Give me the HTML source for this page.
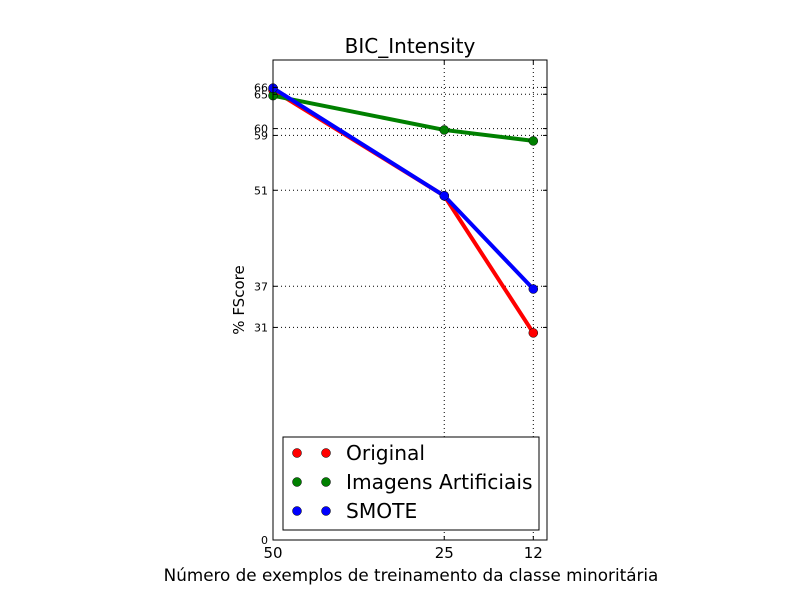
<!DOCTYPE html>
<html><head><meta charset="utf-8"><style>
body{margin:0;background:#fff;}
svg text{font-family:"DejaVu Sans","Liberation Sans",sans-serif;}
</style></head><body>
<svg id="chart" width="800" height="600" xmlns="http://www.w3.org/2000/svg">
<rect width="800" height="600" fill="#fff"/>
<text x="410" y="53" font-size="20" text-anchor="middle">BIC_Intensity</text>
<g id="grid"></g>
<g id="series"></g>
<rect x="273" y="60" width="274" height="480" fill="none" stroke="#000" stroke-width="1"/>
<g id="axes"></g>
<text x="244" y="300" font-size="15" text-anchor="middle" transform="rotate(-90 244 300)">% FScore</text>
<text x="411" y="581" font-size="16.8" text-anchor="middle">Número de exemplos de treinamento da classe minoritária</text>
<g>
<rect x="283" y="437" width="256" height="93" fill="#fff" stroke="#000" stroke-width="1"/>
<g><circle cx="297" cy="453" r="4.5" fill="red" stroke="#000" stroke-width="0.5"/><circle cx="326" cy="453" r="4.5" fill="red" stroke="#000" stroke-width="0.5"/><text x="346" y="460" font-size="20.2">Original</text></g>
<g><circle cx="297" cy="482" r="4.5" fill="green" stroke="#000" stroke-width="0.5"/><circle cx="326" cy="482" r="4.5" fill="green" stroke="#000" stroke-width="0.5"/><text x="346" y="489" font-size="20.2">Imagens Artificiais</text></g>
<g><circle cx="297" cy="511" r="4.5" fill="blue" stroke="#000" stroke-width="0.5"/><circle cx="326" cy="511" r="4.5" fill="blue" stroke="#000" stroke-width="0.5"/><text x="346" y="518" font-size="20.2">SMOTE</text></g>
</g>
</svg>
<script>
const categories=[50,25,12];
const original=[65.6,50.2,30.2];
const artificiais=[64.8,59.8,58.2];
const smote=[65.9,50.2,36.6];
const yTicks=[0,31,37,51,59,60,65,66];
const xTicks=[50,25,12];
const NS="http://www.w3.org/2000/svg";
const L=273,R=547,T=60,B=540;
function xs(v){return L+(50-v)/(50-10)*(R-L);}
function ys(v){return B-v/70*(B-T);}
function mk(tag,attrs,parent){const e=document.createElementNS(NS,tag);for(const k in attrs)e.setAttribute(k,attrs[k]);parent.appendChild(e);return e;}
const grid=document.getElementById('grid'),axes=document.getElementById('axes'),ser=document.getElementById('series');
yTicks.forEach(v=>{const y=ys(v);
 const g=mk('line',{x1:L,x2:R,y1:y,y2:y,stroke:'#000','stroke-dasharray':'1,3','stroke-width':1},grid);
 
 
 mk('line',{x1:L,x2:L+4,y1:y,y2:y,stroke:'#000'},axes);
 mk('line',{x1:R-4,x2:R,y1:y,y2:y,stroke:'#000'},axes);
 const t=mk('text',{x:L-5,y:y+4,'font-size':11,'text-anchor':'end'},axes);t.textContent=v;
 
 
});
xTicks.forEach(v=>{const x=xs(v);
 const g=mk('line',{x1:x,x2:x,y1:T,y2:B,stroke:'#000','stroke-dasharray':'1,3','stroke-width':1},grid);
 
 
 mk('line',{x1:x,x2:x,y1:B,y2:B-4,stroke:'#000'},axes);
 mk('line',{x1:x,x2:x,y1:T,y2:T+4,stroke:'#000'},axes);
 const t=mk('text',{x:x,y:B+18,'font-size':15,'text-anchor':'middle'},axes);t.textContent=v;
 
 
});
[[original,'red','original'],[artificiais,'green','imagens-artificiais'],[smote,'blue','smote']].forEach(([d,c,n])=>{
 const pts=d.map((v,i)=>xs(categories[i])+','+ys(v)).join(' ');
 const p=mk('polyline',{points:pts,fill:'none',stroke:c,'stroke-width':4},ser);
 
 
 d.forEach((v,i)=>{const m=mk('circle',{cx:xs(categories[i]),cy:ys(v),r:4.5,fill:c,stroke:'#000','stroke-width':0.5},ser);
  
  });
});
</script>
</body></html>
